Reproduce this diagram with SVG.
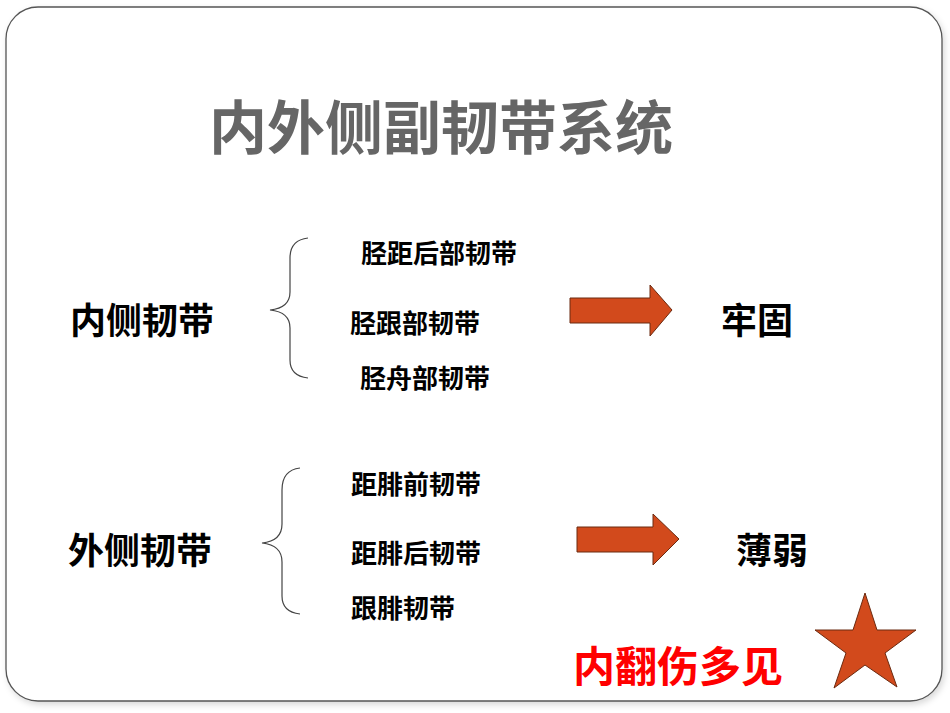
<svg xmlns="http://www.w3.org/2000/svg" width="950" height="713" viewBox="0 0 950 713">
<defs>
<filter id="sh" x="-5%" y="-5%" width="110%" height="110%"><feDropShadow dx="2" dy="3" stdDeviation="3" flood-color="#000" flood-opacity="0.15"/></filter>
<style>
text{font-family:"Noto Sans CJK SC","Noto Sans",sans-serif;font-weight:bold;}
.sub{font-size:26px;fill:#000;}
.main{font-size:36px;fill:#000;}
.br{fill:none;stroke:#444;stroke-width:1.2;}
.ar{fill:#d24a1c;stroke:#6b2a10;stroke-width:1;}
</style>
</defs>
<rect x="6" y="7" width="936" height="694" rx="32" fill="#fff" stroke="#555" stroke-width="1.3" filter="url(#sh)"/>
<text x="441" y="149" text-anchor="middle" font-size="58" fill="#666">内外侧副韧带系统</text>
<g id="medial">
<text class="main" x="70" y="334">内侧韧带</text>
<path class="br" d="M308,238 Q290,240 290,258 L290,292 Q290,308 270,310 Q290,312 290,328 L290,360 Q290,376 308,378"/>
<text class="sub" x="361" y="263">胫距后部韧带</text>
<text class="sub" x="350" y="333">胫跟部韧带</text>
<text class="sub" x="360" y="388">胫舟部韧带</text>
</g>
<g id="lateral">
<text class="main" x="68" y="564">外侧韧带</text>
<path class="br" d="M300,468 Q282,470 282,490 L282,524 Q282,541 262,543 Q282,545 282,562 L282,596 Q282,612 300,614"/>
<text class="sub" x="351" y="494">距腓前韧带</text>
<text class="sub" x="351" y="563">距腓后韧带</text>
<text class="sub" x="351" y="618">跟腓韧带</text>
</g>
<g id="connectors">
<path class="ar" d="M570,298 L650,298 L650,285 L672,310 L650,336 L650,323 L570,323 Z"/>
<path class="ar" d="M577,527 L653,527 L653,514 L679,539 L653,565 L653,552 L577,552 Z"/>
</g>
<g id="strong"><text class="main" x="721" y="334">牢固</text></g>
<g id="weak"><text class="main" x="736" y="564">薄弱</text></g>
<g id="note">
<text x="573" y="682" font-size="42" fill="#f00">内翻伤多见</text>
<path class="ar" d="M865,593 L877,630 L916,630 L885,653 L897,687 L865,665 L834,688 L846,653 L815,630 L853,630 Z"/>
</g>
</svg>
